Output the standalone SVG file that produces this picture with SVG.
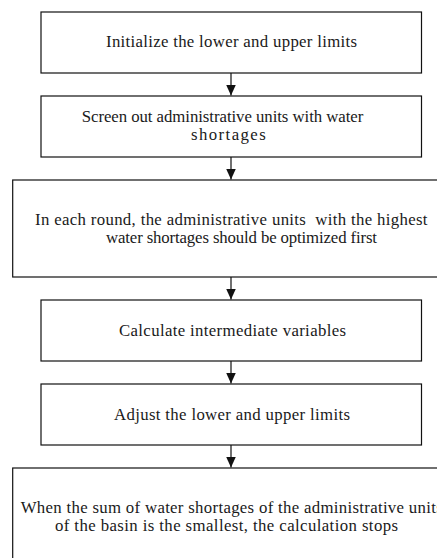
<svg xmlns="http://www.w3.org/2000/svg" width="437" height="558" viewBox="0 0 437 558">
<style>
.box{fill:#fff;stroke:#111;stroke-width:1.2}
.lbl{font-family:"Liberation Serif","DejaVu Serif",serif;font-size:16.8px;fill:#1a1a1a}
.conn{stroke:#111;stroke-width:1.2;fill:none}
</style>
<defs>
<marker id="ah" markerUnits="userSpaceOnUse" markerWidth="11" markerHeight="10" refX="11" refY="5" orient="auto" viewBox="0 0 11 10">
<path d="M0,0 L11,5 L0,10 z" fill="#111"/>
</marker>
</defs>
<rect width="437" height="558" fill="#fff"/>
<g id="n1">
<rect class="box" x="41" y="12" width="380.5" height="61"/>
<text class="lbl" x="106" y="47.3" textLength="251" lengthAdjust="spacing">Initialize the lower and upper limits</text>
</g>
<g id="n2">
<rect class="box" x="41" y="96" width="380.5" height="61"/>
<text class="lbl" x="81.7" y="121.7" textLength="281.6" lengthAdjust="spacing">Screen out administrative units with water</text>
<text class="lbl" x="191" y="140" textLength="74.7" lengthAdjust="spacing">shortages</text>
</g>
<g id="n3">
<rect class="box" x="12.7" y="180" width="437" height="97"/>
<text class="lbl" x="35" y="225" textLength="392.5" lengthAdjust="spacing" xml:space="preserve">In each round, the administrative units  with the highest</text>
<text class="lbl" x="106" y="243" textLength="271" lengthAdjust="spacing">water shortages should be optimized first</text>
</g>
<g id="n4">
<rect class="box" x="41" y="300" width="380.5" height="61"/>
<text class="lbl" x="119" y="335.5" textLength="227" lengthAdjust="spacing">Calculate intermediate variables</text>
</g>
<g id="n5">
<rect class="box" x="41" y="384" width="380.5" height="61"/>
<text class="lbl" x="114" y="419.5" textLength="236" lengthAdjust="spacing">Adjust the lower and upper limits</text>
</g>
<g id="n6">
<rect class="box" x="12.7" y="468" width="437" height="97"/>
<text class="lbl" x="20.7" y="513" textLength="422" lengthAdjust="spacing">When the sum of water shortages of the administrative units</text>
<text class="lbl" x="55" y="531" textLength="343" lengthAdjust="spacing">of the basin is the smallest, the calculation stops</text>
</g>
<g id="connectors">
<line class="conn" x1="231" y1="73" x2="231" y2="95.5" marker-end="url(#ah)"/>
<line class="conn" x1="231" y1="157" x2="231" y2="179.5" marker-end="url(#ah)"/>
<line class="conn" x1="231" y1="277" x2="231" y2="299.5" marker-end="url(#ah)"/>
<line class="conn" x1="231" y1="361" x2="231" y2="383.5" marker-end="url(#ah)"/>
<line class="conn" x1="231" y1="445" x2="231" y2="467.5" marker-end="url(#ah)"/>
</g>
</svg>
